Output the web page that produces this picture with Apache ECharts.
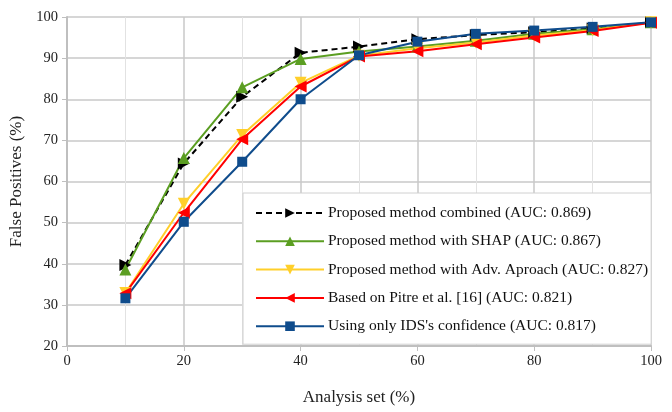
<!DOCTYPE html>
<html><head><meta charset="utf-8">
<script src="https://cdn.jsdelivr.net/npm/echarts@6/dist/echarts.min.js"></script>
<style>html,body{margin:0;padding:0;background:#fff}#c{width:672px;height:412px}</style>
</head><body><div id="c"></div>
<script>
const analysisSet = [10, 20, 30, 40, 50, 60, 70, 80, 90, 100];
const seriesNames = [
  'Proposed method combined (AUC: 0.869)',
  'Proposed method with SHAP (AUC: 0.867)',
  'Proposed method with Adv. Aproach (AUC: 0.827)',
  'Based on Pitre et al. [16] (AUC: 0.821)',
  "Using only IDS's confidence (AUC: 0.817)"
];
const combined = [39.7, 64.4, 80.6, 91.3, 92.8, 94.6, 95.6, 96.3, 97.2, 98.7];
const shap     = [38.6, 65.7, 82.9, 89.8, 91.6, 92.8, 94.2, 95.9, 97.0, 98.7];
const adv      = [32.9, 54.6, 71.3, 84.0, 90.6, 92.4, 93.8, 95.5, 96.8, 98.7];
const pitre    = [32.8, 52.4, 70.3, 83.1, 90.4, 91.7, 93.4, 95.0, 96.6, 98.6];
const ids      = [31.6, 50.2, 64.8, 80.0, 90.7, 94.0, 95.9, 96.7, 97.6, 98.7];

const font = 'Liberation Serif';
function pairs(ys){ return analysisSet.map((x,i)=>[x, ys[i]]); }
function mk(name, ys, color, symbol, size, dashed){
  return {
    name, type:'line', data: pairs(ys), symbol, symbolSize: size,
    lineStyle:{color, width:2, type: dashed ? [6,4] : 'solid'},
    itemStyle:{color},
    emphasis:{disabled:true}
  };
}
const chart = echarts.init(document.getElementById('c'));
chart.setOption({
  animation:false,
  backgroundColor:'#fff',
  grid:{left:67, right:21, top:17, bottom:66},
  xAxis:{
    type:'value', min:0, max:100, interval:20,
    name:'Analysis set (%)', nameLocation:'middle', nameGap:43,
    nameTextStyle:{fontFamily:font, fontSize:17, color:'#222'},
    axisLine:{lineStyle:{color:'#bfbfbf', width:2}},
    axisTick:{show:true, length:5, lineStyle:{color:'#bfbfbf'}},
    axisLabel:{fontFamily:font, fontSize:14.5, color:'#222', margin:8},
    splitLine:{show:true, lineStyle:{color:'#c8c8c8', width:1.5}},
    minorTick:{show:false, splitNumber:2},
    minorSplitLine:{show:true, lineStyle:{color:'#e2e2e2', width:1}}
  },
  yAxis:{
    type:'value', min:20, max:100, interval:10,
    name:'False Positives (%)', nameLocation:'middle', nameGap:34,
    nameTextStyle:{fontFamily:font, fontSize:17, color:'#222'},
    axisLine:{show:true, lineStyle:{color:'#bfbfbf', width:2}},
    axisTick:{show:true, length:5, lineStyle:{color:'#bfbfbf'}},
    axisLabel:{fontFamily:font, fontSize:14.5, color:'#222', margin:9},
    splitLine:{show:true, lineStyle:{color:'#c8c8c8', width:1.5}}
  },
  legend:{
    orient:'vertical', left:243, top:193,
    padding:[12, 3, 10, 12],
    backgroundColor:'#fff', borderColor:'#d0d0d0', borderWidth:1,
    itemWidth:68, itemHeight:12, itemGap:12.3,
    textStyle:{fontFamily:font, fontSize:15.5, color:'#111', padding:[0,0,0,-1]},
    data: seriesNames
  },
  series:[
    mk(seriesNames[0], combined, '#000000', 'path://M0,0L10,5L0,10Z', 12, true),
    mk(seriesNames[1], shap, '#5b9e22', 'triangle', 12, false),
    mk(seriesNames[2], adv, '#ffcf2a', 'path://M0,0L10,0L5,10Z', 12, false),
    mk(seriesNames[3], pitre, '#ff0000', 'path://M10,0L0,5L10,10Z', 12, false),
    mk(seriesNames[4], ids, '#0f4c8c', 'rect', 10, false)
  ]
});
</script></body></html>
